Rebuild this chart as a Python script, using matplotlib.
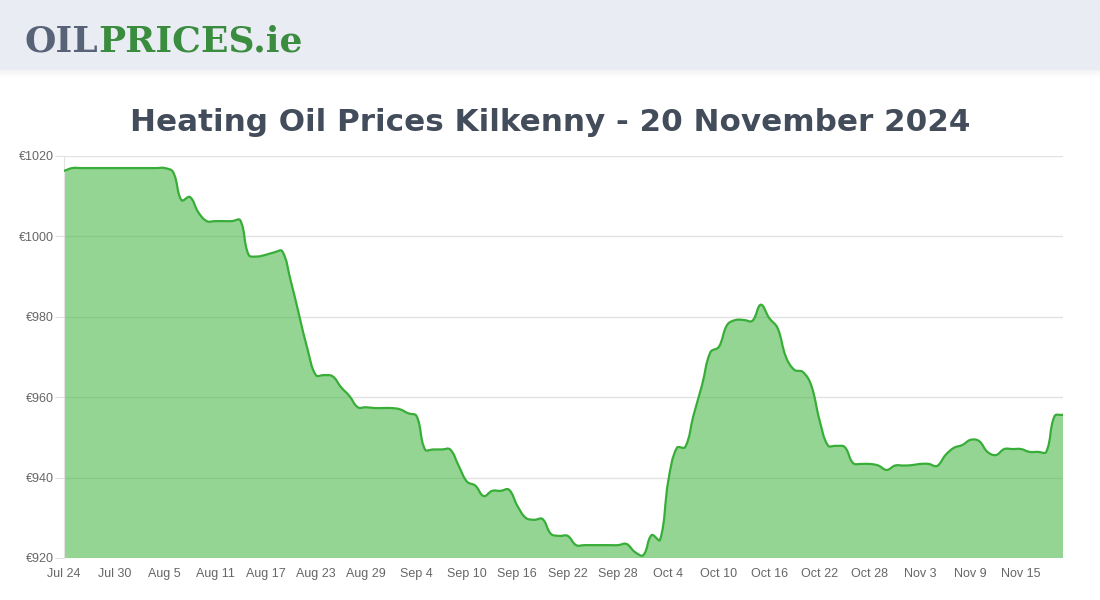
import numpy as np
import matplotlib
matplotlib.use("Agg")
import matplotlib.pyplot as plt
from matplotlib.path import Path
from matplotlib.patches import PathPatch, Rectangle
from matplotlib import font_manager

# daily prices, Jul 24 .. Nov 20 2024
prices = [
    1016.3, 1017.0, 1017.0, 1017.0, 1017.0, 1017.0, 1017.0, 1017.0, 1017.0, 1017.0,
    1017.0, 1017.0, 1017.0, 1016.0, 1009.0, 1009.8, 1006.0, 1003.8, 1003.8, 1003.8,
    1003.8, 1004.0, 995.4, 995.0, 995.4, 996.0, 996.3, 989.0, 980.5, 972.0,
    965.5, 965.5, 965.2, 962.5, 960.3, 957.5, 957.5, 957.3, 957.3, 957.3,
    957.0, 956.0, 955.3, 947.0, 947.0, 947.0, 947.0, 943.0, 939.0, 938.0,
    935.4, 936.7, 936.7, 937.0, 933.0, 930.0, 929.5, 929.7, 926.0, 925.5,
    925.5, 923.2, 923.2, 923.2, 923.2, 923.2, 923.2, 923.5, 921.5, 920.7,
    925.7, 924.5, 939.4, 947.4, 947.6, 955.6, 963.0, 971.2, 972.5, 978.0,
    979.2, 979.2, 979.0, 983.0, 979.7, 977.2, 970.0, 966.8, 966.3, 963.0,
    954.3, 948.0, 947.9, 947.6, 943.6, 943.4, 943.4, 943.0, 941.9, 943.0,
    943.0, 943.1, 943.4, 943.4, 942.9, 945.6, 947.4, 948.1, 949.4, 949.1,
    946.4, 945.6, 947.1, 947.1, 947.1, 946.4, 946.4, 946.4, 955.3, 955.6,
]
days = list(range(len(prices)))

tick_days = list(range(0, 115, 6))
tick_labels = ["Jul 24", "Jul 30", "Aug 5", "Aug 11", "Aug 17", "Aug 23", "Aug 29",
               "Sep 4", "Sep 10", "Sep 16", "Sep 22", "Sep 28", "Oct 4", "Oct 10",
               "Oct 16", "Oct 22", "Oct 28", "Nov 3", "Nov 9", "Nov 15"]
y_ticks = [920, 940, 960, 980, 1000, 1020]
y_labels = ["€920", "€940", "€960", "€980", "€1000", "€1020"]

title = "Heating Oil Prices Kilkenny - 20 November 2024"

W, H = 1100, 600
line_col = "#38ae38"
fill_col = (60/255, 180/255, 60/255, 0.55)
grid_col = "#e2e2e2"
label_col = "#666666"

installed = {f.name for f in font_manager.fontManager.ttflist}


def pick(cands, default):
    for c in cands:
        if c in installed:
            return c
    return default


def spline_path(xs, ys, tension=0.4):
    # chart.js style cubic bezier through the points (pixel space)
    n = len(xs)
    verts = [(xs[0], ys[0])]
    codes = [Path.MOVETO]
    cps = []
    for i in range(n):
        p = np.array([xs[max(i - 1, 0)], ys[max(i - 1, 0)]])
        c = np.array([xs[i], ys[i]])
        q = np.array([xs[min(i + 1, n - 1)], ys[min(i + 1, n - 1)]])
        d01 = np.hypot(*(c - p))
        d12 = np.hypot(*(q - c))
        tot = d01 + d12 if d01 + d12 > 0 else 1
        fa = tension * d01 / tot
        fb = tension * d12 / tot
        cps.append((c - fa * (q - p), c + fb * (q - p)))
    for i in range(1, n):
        verts += [tuple(cps[i - 1][1]), tuple(cps[i][0]), (xs[i], ys[i])]
        codes += [Path.CURVE4] * 3
    return verts, codes


fig = plt.figure(figsize=(W / 100, H / 100), dpi=100)
fig.patch.set_facecolor("white")

# header band + soft shadow
for k in range(8):
    fig.patches.append(Rectangle((0, 1 - (70 + k) / H), 1, 1 / H, transform=fig.transFigure,
                                 facecolor=(0.85, 0.86, 0.89, 0.35 * (1 - k / 8)),
                                 edgecolor="none"))
fig.patches.append(Rectangle((0, 1 - 70 / H), 1, 70 / H, transform=fig.transFigure,
                             facecolor="#e9ecf3", edgecolor="none"))

logo_fam = pick(["DejaVu Serif Condensed"], "DejaVu Serif")
t_oil = fig.text(25 / W, 1 - 51 / H, "OIL", color="#586377", fontsize=26,
                 fontweight="heavy", family=logo_fam, ha="left", va="baseline")
fig.canvas.draw()
bb = t_oil.get_window_extent()
t_pr = fig.text(bb.x1 / W, 1 - 51 / H, "PRICES.ie", color="#3a8c3e", fontsize=26,
                fontweight="heavy", family=logo_fam, ha="left", va="baseline")

# title: narrow bold face if there is one, sized to the reference width
title_fam = pick(["Liberation Sans Narrow", "DejaVu Sans Condensed"], "DejaVu Sans")
t_title = fig.text(550 / W, 1 - 131 / H, title, color="#434c5b", fontsize=36,
                   family=title_fam, fontweight="bold", ha="center", va="baseline")
fig.canvas.draw()
tw = t_title.get_window_extent().width
if tw > 845:
    t_title.set_fontsize(36 * 840 / tw)

ax = fig.add_axes([64 / W, (H - 558) / H, (1063 - 64) / W, (558 - 156) / H])
ax.set_xlim(0, len(prices) - 1)
ax.set_ylim(920, 1020)
ax.set_facecolor("white")

ax.set_yticks(y_ticks)
ax.set_yticklabels(y_labels)
ax.set_xticks(tick_days)
ax.set_xticklabels(tick_labels)
ax.yaxis.grid(True, color=grid_col, linewidth=1)
ax.set_axisbelow(True)
ax.tick_params(axis="y", length=6.5, width=0.75, color=grid_col, labelcolor=label_col,
               labelsize=9, pad=1)
ax.tick_params(axis="x", length=0, labelcolor=label_col, labelsize=9, pad=7.5)
for s in ["top", "right", "bottom"]:
    ax.spines[s].set_visible(False)
ax.spines["left"].set_color(grid_col)
lab_fam = pick(["Liberation Sans", "Arial"], "DejaVu Sans")
for lab in ax.get_xticklabels() + ax.get_yticklabels():
    lab.set_family(lab_fam)

# smooth curve built in pixel space, then mapped back to data
fig.canvas.draw()
pts = ax.transData.transform(np.column_stack([days, prices]))
verts, codes = spline_path(pts[:, 0], pts[:, 1])
inv = ax.transData.inverted()
verts = inv.transform(np.array(verts))
line_path = Path(verts, codes)

fill_verts = list(map(tuple, verts)) + [(days[-1], 920), (days[0], 920), tuple(verts[0])]
fill_codes = list(codes) + [Path.LINETO, Path.LINETO, Path.CLOSEPOLY]
ax.add_patch(PathPatch(Path(fill_verts, fill_codes), facecolor=fill_col,
                       edgecolor="none", zorder=2))
ax.add_patch(PathPatch(line_path, facecolor="none", edgecolor=line_col,
                       linewidth=1.6, zorder=3, capstyle="round", joinstyle="round"))

fig.savefig("out.png", dpi=100)
